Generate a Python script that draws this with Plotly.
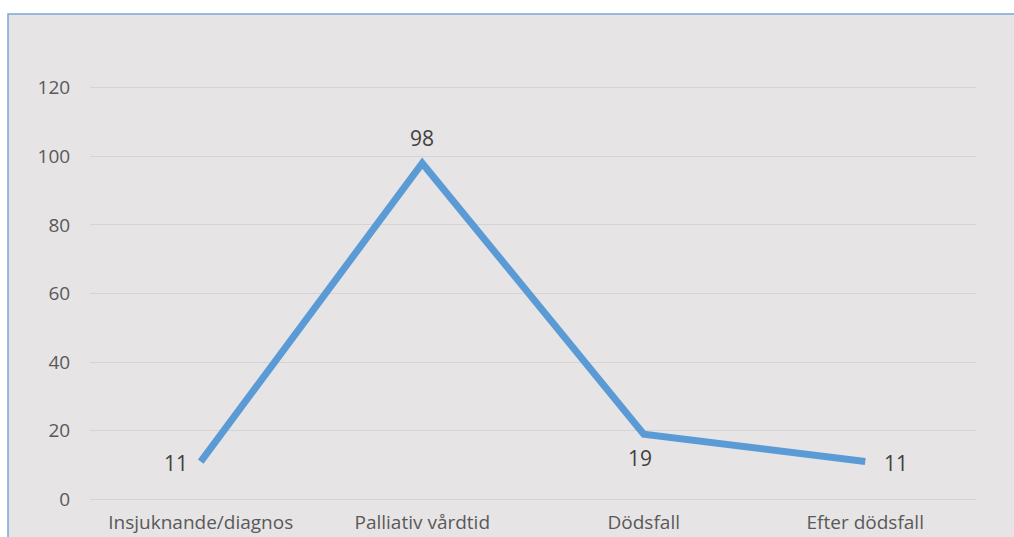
import plotly.graph_objects as go

categories = ["Insjuknande/diagnos", "Palliativ vårdtid", "Dödsfall", "Efter dödsfall"]
values = [11, 98, 19, 11]
y_ticks = [0, 20, 40, 60, 80, 100, 120]
# label offsets (pixels) relative to each point
label_xshift = [-25, 0, -4, 31]
label_yshift = [-1, 25, -24, -1]

W, H = 1014, 537
L, R, T, B = 90, 38, 86, 36
pw, ph = W - L - R, H - T - B

def px_x(x):
    return (x - L) / pw

def px_y(y):
    return (H - B - y) / ph

fig = go.Figure()
fig.add_trace(go.Scatter(
    x=categories, y=values,
    mode="lines",
    line=dict(color="#5b9bd5", width=7),
    hoverinfo="skip",
    showlegend=False,
))

for c, v, dx, dy in zip(categories, values, label_xshift, label_yshift):
    fig.add_annotation(x=c, y=v, text=str(v), showarrow=False,
                       xshift=dx, yshift=dy,
                       font=dict(family="Open Sans", size=21, color="#404040"))

fig.add_shape(type="rect", xref="paper", yref="paper",
              x0=px_x(8), x1=px_x(1030), y0=px_y(560), y1=px_y(14),
              fillcolor="#e7e4e5", line=dict(color="#7aa6da", width=1.5),
              layer="below")

fig.update_layout(
    width=W, height=H,
    margin=dict(l=L, r=R, t=T, b=B),
    paper_bgcolor="white",
    plot_bgcolor="rgba(0,0,0,0)",
    font=dict(family="Open Sans", size=19, color="#595959"),
    xaxis=dict(range=[-0.5, 3.5], showgrid=False, zeroline=False, showline=False,
               automargin=False,
               ticks="outside", ticklen=4, tickcolor="rgba(0,0,0,0)",
               tickfont=dict(size=19, color="#595959")),
    yaxis=dict(range=[-0.5, 120.5], tickvals=y_ticks, showgrid=True, gridcolor="#d6d3d4",
               gridwidth=1, zeroline=False, showline=False, automargin=False,
               ticks="outside", ticklen=15, tickcolor="rgba(0,0,0,0)",
               tickfont=dict(size=19, color="#595959")),
)

fig.write_html("out.html")
